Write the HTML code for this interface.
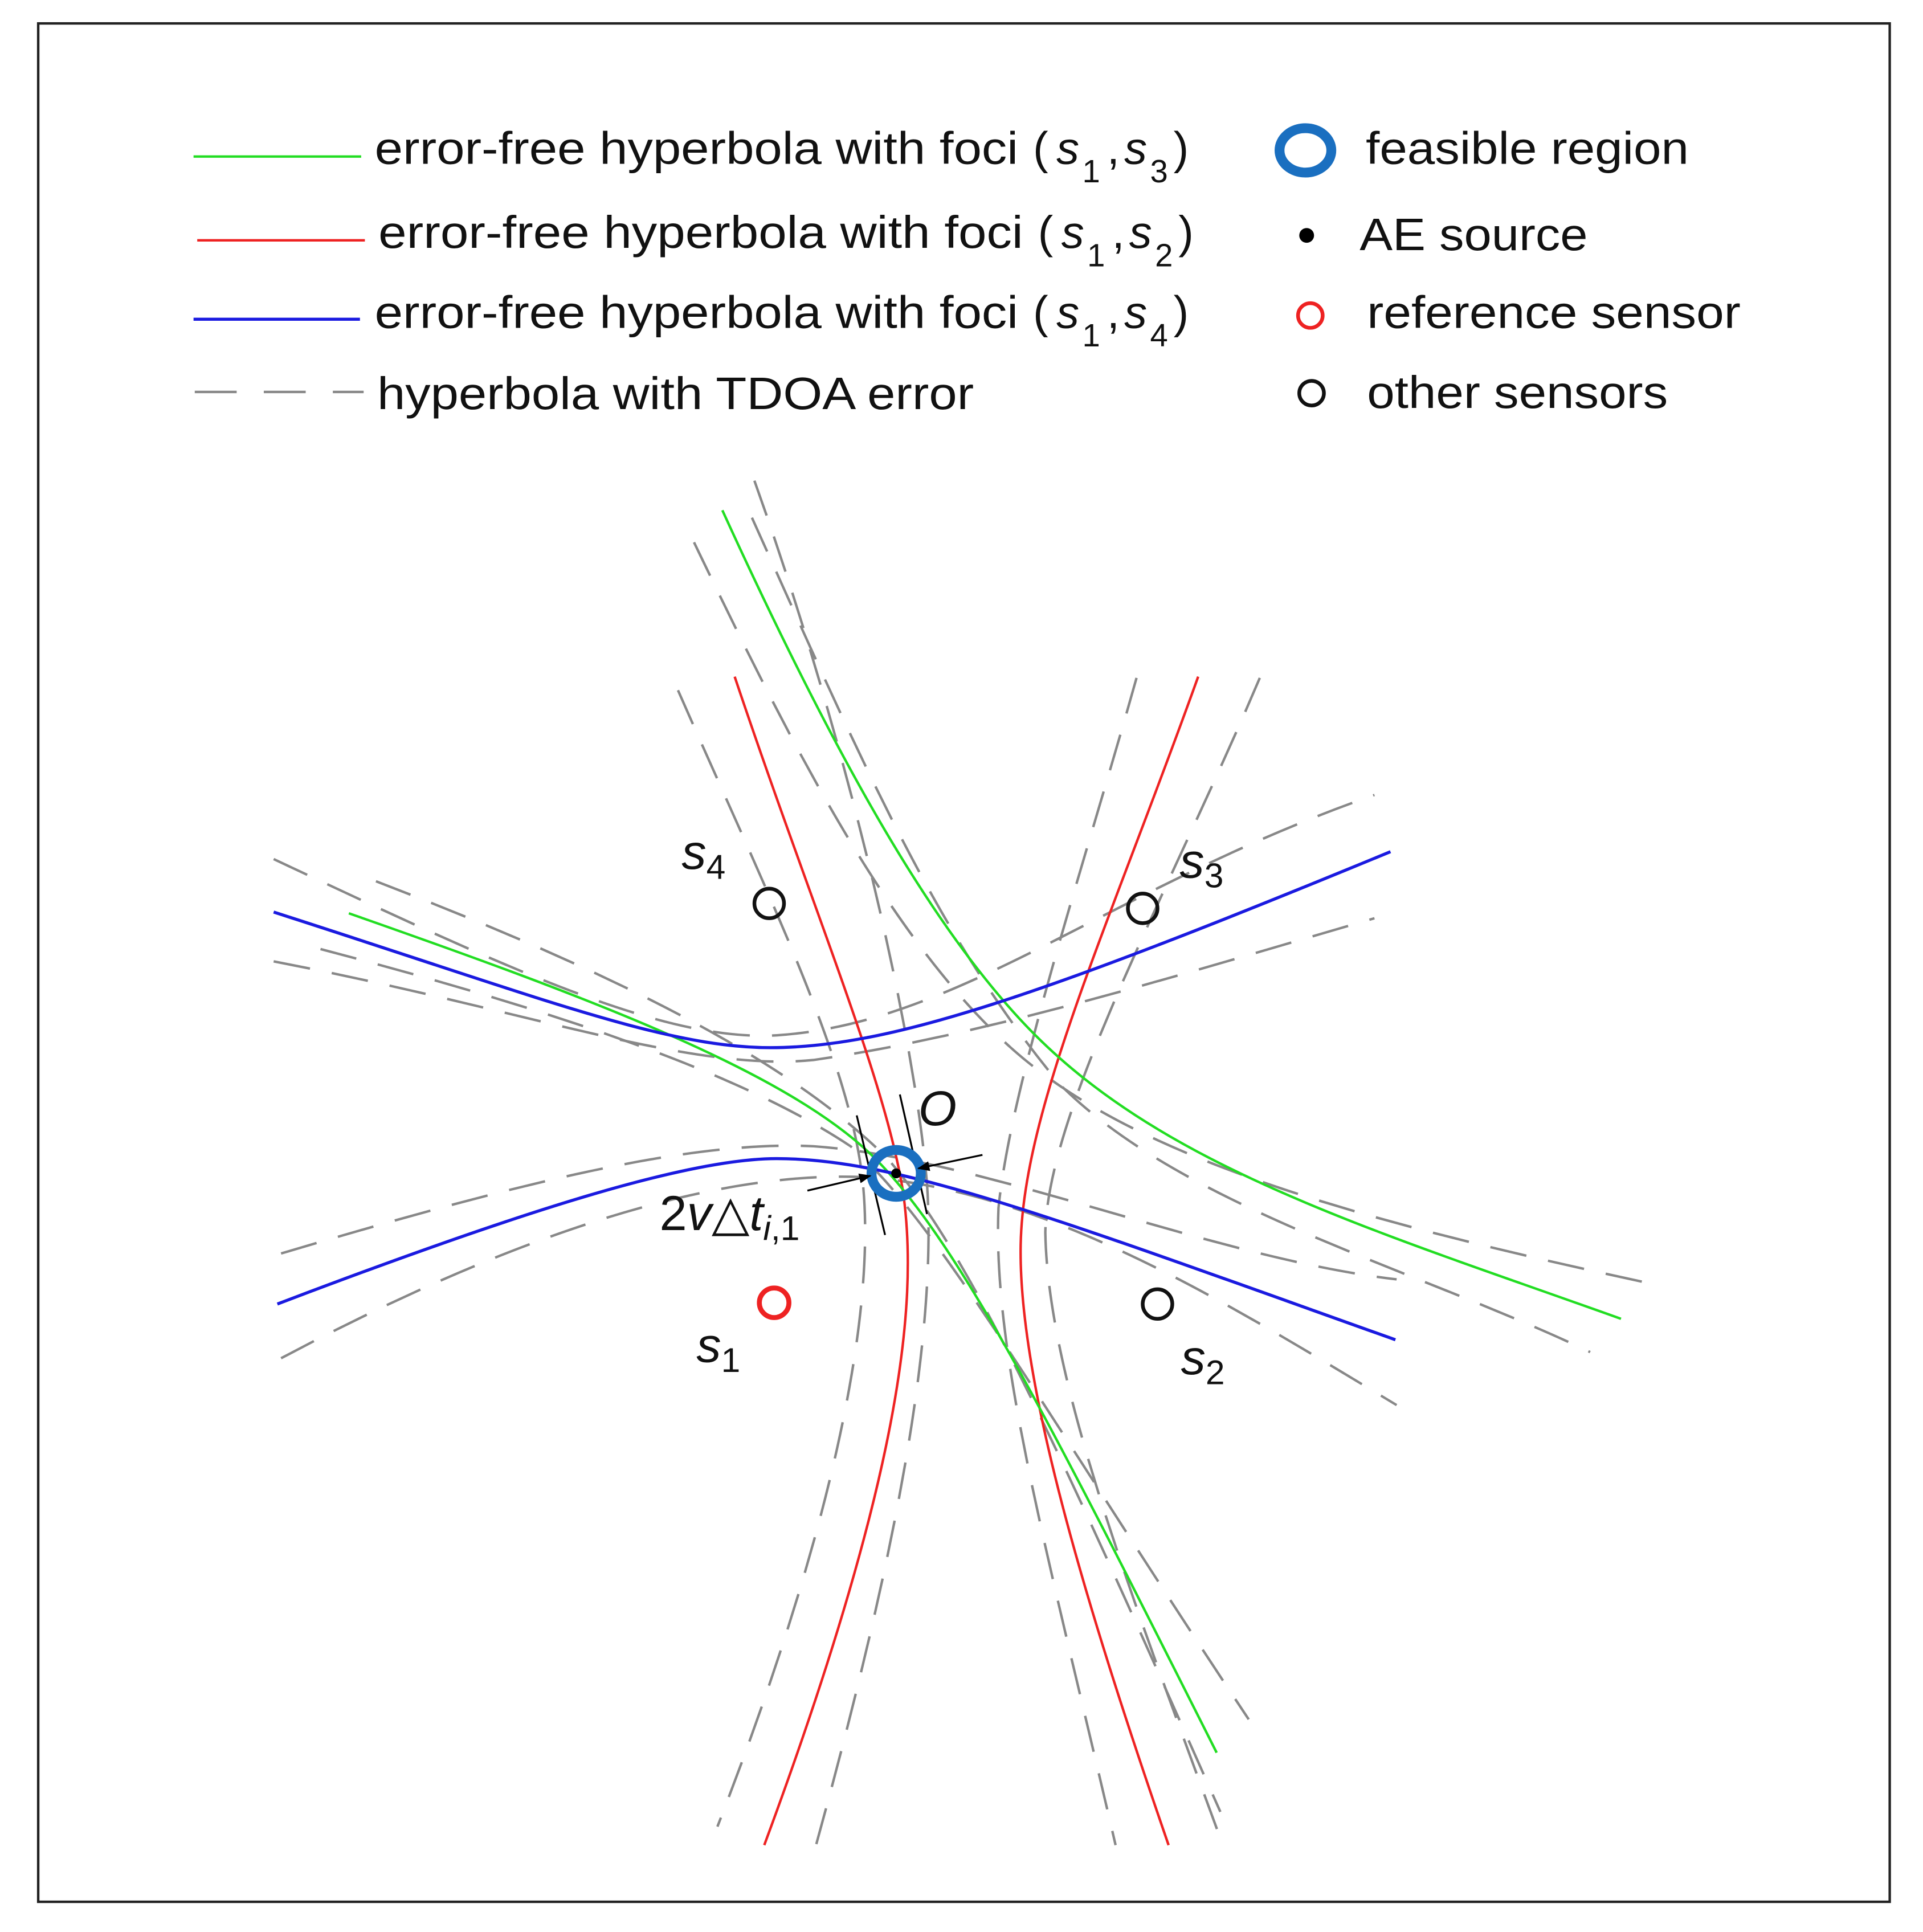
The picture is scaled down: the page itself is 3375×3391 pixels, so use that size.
<!DOCTYPE html>
<html><head><meta charset="utf-8"><style>
html,body{margin:0;padding:0;background:#fff;}
svg{display:block;}
text{font-family:"Liberation Sans",sans-serif;}
</style></head><body>
<svg width="3375" height="3391" viewBox="0 0 1560 1567.5" preserveAspectRatio="none" xmlns="http://www.w3.org/2000/svg">
<defs>
<marker id="ah" markerWidth="10" markerHeight="8" refX="9" refY="4" orient="auto" markerUnits="userSpaceOnUse"><path d="M0,0 L10,4 L0,8 z" fill="#000"/></marker>
</defs>
<rect x="31" y="19" width="1502" height="1524" fill="none" stroke="#222" stroke-width="2"/>

<!-- legend -->
<line x1="157" y1="127" x2="293" y2="127" stroke="#22dd22" stroke-width="2"/>
<line x1="160" y1="195" x2="296" y2="195" stroke="#ee2222" stroke-width="2"/>
<line x1="157" y1="259" x2="292" y2="259" stroke="#1a1ae0" stroke-width="2.5"/>
<line x1="158" y1="318" x2="295" y2="318" stroke="#888" stroke-width="2" stroke-dasharray="34,22"/>
<g font-size="37" fill="#111">
<text x="304" y="133" textLength="522" lengthAdjust="spacingAndGlyphs">error-free hyperbola with foci</text>
<text x="838" y="133">(</text><text x="857" y="133" font-style="italic">s</text><text x="878" y="148" font-size="26">1</text><text x="898" y="133">,</text><text x="912" y="133" font-style="italic">s</text><text x="933" y="148" font-size="26">3</text><text x="952" y="133">)</text>
<text x="307" y="201" textLength="523" lengthAdjust="spacingAndGlyphs">error-free hyperbola with foci</text>
<text x="842" y="201">(</text><text x="861" y="201" font-style="italic">s</text><text x="882" y="216" font-size="26">1</text><text x="902" y="201">,</text><text x="916" y="201" font-style="italic">s</text><text x="937" y="216" font-size="26">2</text><text x="956" y="201">)</text>
<text x="304" y="266" textLength="522" lengthAdjust="spacingAndGlyphs">error-free hyperbola with foci</text>
<text x="838" y="266">(</text><text x="857" y="266" font-style="italic">s</text><text x="878" y="281" font-size="26">1</text><text x="898" y="266">,</text><text x="912" y="266" font-style="italic">s</text><text x="933" y="281" font-size="26">4</text><text x="952" y="266">)</text>
<text x="306" y="332" textLength="484" lengthAdjust="spacingAndGlyphs">hyperbola with TDOA error</text>
<text x="1108" y="133" textLength="262" lengthAdjust="spacingAndGlyphs">feasible region</text>
<text x="1103" y="203" textLength="185" lengthAdjust="spacingAndGlyphs">AE source</text>
<text x="1109" y="266" textLength="303" lengthAdjust="spacingAndGlyphs">reference sensor</text>
<text x="1109" y="331" textLength="244" lengthAdjust="spacingAndGlyphs">other sensors</text>
</g>
<ellipse cx="1059" cy="122" rx="21" ry="18" fill="none" stroke="#1a6fc0" stroke-width="8"/>
<circle cx="1060" cy="191" r="6" fill="#000"/>
<circle cx="1063" cy="256" r="10" fill="none" stroke="#e22" stroke-width="3"/>
<circle cx="1064" cy="319" r="10" fill="none" stroke="#111" stroke-width="3"/>

<!-- dashed curves -->
<g fill="none" stroke="#888" stroke-width="2" stroke-dasharray="30,18">
<path d="M550,560 C620,720 690,860 700,960 C710,1060 680,1230 582,1482"/>
<path d="M612,390 C680,580 740,820 752,960 C760,1080 730,1250 662,1497"/>
<path d="M922,550 C880,700 820,880 810,980 C805,1100 850,1260 905,1497"/>
<path d="M1022,550 C950,720 850,900 848,1000 C850,1120 920,1300 992,1497"/>
<path d="M563,440 C640,600 720,760 820,850 C920,940 1100,990 1342,1042"/>
<path d="M610,420 C700,620 760,760 860,880 C960,980 1150,1030 1290,1097"/>
<path d="M260,770 C450,820 600,870 690,930 C760,990 850,1150 1013,1395"/>
<path d="M305,715 C500,790 640,860 720,940 C790,1020 870,1200 990,1470"/>
<path d="M222,697 C420,790 540,845 630,840 C780,830 900,720 1115,645"/>
<path d="M222,780 C430,820 560,870 660,860 C800,840 960,790 1115,745"/>
<path d="M228,1017 C420,960 560,925 660,930 C800,940 980,1020 1133,1038"/>
<path d="M228,1102 C420,1000 580,950 700,955 C850,965 1000,1060 1133,1140"/>
</g>

<!-- solid curves -->
<g fill="none" stroke-width="2">
<path d="M596,549 C660,740 720,880 733,970 C745,1060 730,1200 620,1497" stroke="#ee2222"/>
<path d="M972,549 C900,750 830,900 828,1010 C826,1120 880,1300 948,1497" stroke="#ee2222"/>
<path d="M586,414 C680,620 760,760 840,840 C950,950 1120,1000 1315,1070" stroke="#22dd22"/>
<path d="M283,741 C480,810 640,870 710,940 C780,1010 860,1170 987,1422" stroke="#22dd22"/>
<path d="M222,740 C440,810 540,850 625,850 C720,850 840,810 1128,691" stroke="#1a1ae0" stroke-width="2.5"/>
<path d="M225,1058 C430,980 560,940 630,940 C730,940 860,990 1132,1087" stroke="#1a1ae0" stroke-width="2.5"/>
</g>

<!-- sensors -->
<circle cx="624" cy="733" r="12" fill="none" stroke="#111" stroke-width="3"/>
<circle cx="927" cy="737" r="12" fill="none" stroke="#111" stroke-width="3"/>
<circle cx="628" cy="1057" r="12" fill="none" stroke="#e22" stroke-width="4"/>
<circle cx="939" cy="1058" r="12" fill="none" stroke="#111" stroke-width="3"/>
<g font-size="40" fill="#111" font-style="italic">
<text x="553" y="705">s<tspan font-size="28" dy="8" font-style="normal">4</tspan></text>
<text x="957" y="712">s<tspan font-size="28" dy="8" font-style="normal">3</tspan></text>
<text x="565" y="1105">s<tspan font-size="28" dy="8" font-style="normal">1</tspan></text>
<text x="958" y="1115">s<tspan font-size="28" dy="8" font-style="normal">2</tspan></text>
<text x="745" y="913">O</text>
</g>

<!-- feasible region detail -->
<line x1="695" y1="905" x2="718" y2="1002" stroke="#000" stroke-width="1.5"/>
<line x1="730" y1="888" x2="752" y2="985" stroke="#000" stroke-width="1.5"/>
<ellipse cx="727" cy="952" rx="20" ry="19" fill="none" stroke="#1a6fc0" stroke-width="8"/>
<circle cx="727" cy="952" r="4" fill="#000"/>
<line x1="655" y1="966" x2="706" y2="954" stroke="#000" stroke-width="1.5" marker-end="url(#ah)"/>
<line x1="797" y1="937" x2="745" y2="948" stroke="#000" stroke-width="1.5" marker-end="url(#ah)"/>
<text x="535" y="998" font-size="40" fill="#111">2<tspan font-style="italic">v</tspan>△<tspan font-style="italic">t</tspan><tspan font-size="28" dy="8" font-style="italic">i</tspan><tspan font-size="28">,1</tspan></text>
</svg>
</body></html>
